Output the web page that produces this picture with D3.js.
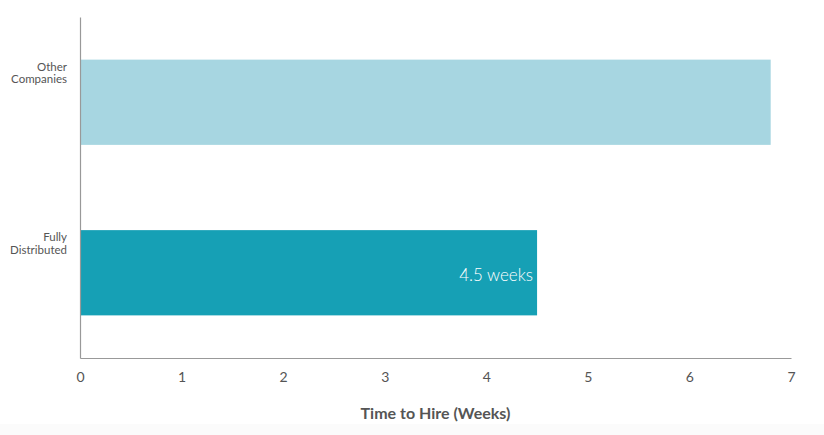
<!DOCTYPE html>
<html>
<head>
<meta charset="utf-8">
<script src="https://cdn.jsdelivr.net/npm/d3@7"></script>
<style>
  body { margin: 0; background: #fff; }
  svg text { font-family: Lato, "Open Sans", sans-serif; }
</style>
</head>
<body>
<div id="chart"></div>
<script>
// Chart data
const categories = ["Other Companies", "Fully Distributed"];
const weeks = [6.8, 4.5];
const barColors = ["#a7d6e1", "#16a0b5"];
const barLabels = ["", "4.5 weeks"];
const xTicks = [0, 1, 2, 3, 4, 5, 6, 7];

const W = 824, H = 435;
const margin = { top: 17, right: 33, bottom: 77, left: 80 };
const width = W - margin.left - margin.right;
const height = H - margin.top - margin.bottom;

const svg = d3.select("#chart")
    .append("svg")
    .attr("width", W)
    .attr("height", H);

// faint band along the bottom
svg.append("rect")
    .attr("x", 0).attr("y", 424)
    .attr("width", W).attr("height", H - 424)
    .attr("fill", "#fbfbfb");

const g = svg.append("g")
    .attr("transform", `translate(${margin.left},${margin.top})`);

const x = d3.scaleLinear()
    .domain([0, 7])
    .range([0, width]);

const y = d3.scaleBand()
    .domain(categories)
    .range([0, height])
    .paddingInner(0.5)
    .paddingOuter(0.25);

const data = categories.map((c, i) => ({ cat: c, val: weeks[i], color: barColors[i], label: barLabels[i] }));

g.selectAll(".bar")
    .data(data)
    .enter().append("rect")
    .attr("class", "bar")
    .attr("x", 0)
    .attr("y", d => y(d.cat))
    .attr("width", d => x(d.val))
    .attr("height", y.bandwidth())
    .attr("fill", d => d.color);

// label inside bar
g.selectAll(".bar-label")
    .data(data.filter(d => d.label))
    .enter().append("text")
    .attr("class", "bar-label")
    .attr("x", d => x(d.val) - 4)
    .attr("y", d => y(d.cat) + y.bandwidth() / 2 + 2)
    .attr("dy", "0.35em")
    .attr("text-anchor", "end")
    .attr("fill", "#fff")
    .attr("font-size", 17)
    .attr("font-weight", 300)
    .text(d => d.label);

// x axis
const xAxis = g.append("g")
    .attr("transform", `translate(0,${height})`)
    .call(d3.axisBottom(x).tickValues(xTicks).tickSize(0).tickPadding(14).tickFormat(d3.format("d")));
xAxis.select(".domain").attr("stroke", "#999").attr("stroke-width", 1.2);
xAxis.selectAll("text").attr("font-size", 14).attr("fill", "#555")
    .style("font-family", "Lato, 'Open Sans', sans-serif");

// y axis
const yAxis = g.append("g")
    .call(d3.axisLeft(y).tickSize(0).tickFormat(""));
yAxis.select(".domain").attr("stroke", "#999").attr("stroke-width", 1.2);

// category labels (two lines)
g.selectAll(".cat-label")
    .data(data)
    .enter().append("text")
    .attr("class", "cat-label")
    .attr("x", -13)
    .attr("y", d => y(d.cat) + 11)
    .attr("text-anchor", "end")
    .attr("fill", "#555")
    .attr("font-size", 11.5)
    .each(function(d) {
        const words = d.cat.split(" ");
        d3.select(this).selectAll("tspan")
            .data(words)
            .enter().append("tspan")
            .attr("x", -13)
            .attr("dy", (w, i) => i === 0 ? 0 : 12.5)
            .text(w => w);
    });

// axis title
svg.append("text")
    .attr("x", margin.left + width / 2)
    .attr("y", 419)
    .attr("text-anchor", "middle")
    .attr("fill", "#555")
    .attr("font-size", 16)
    .attr("font-weight", "bold")
    .text("Time to Hire (Weeks)");
</script>
</body>
</html>
